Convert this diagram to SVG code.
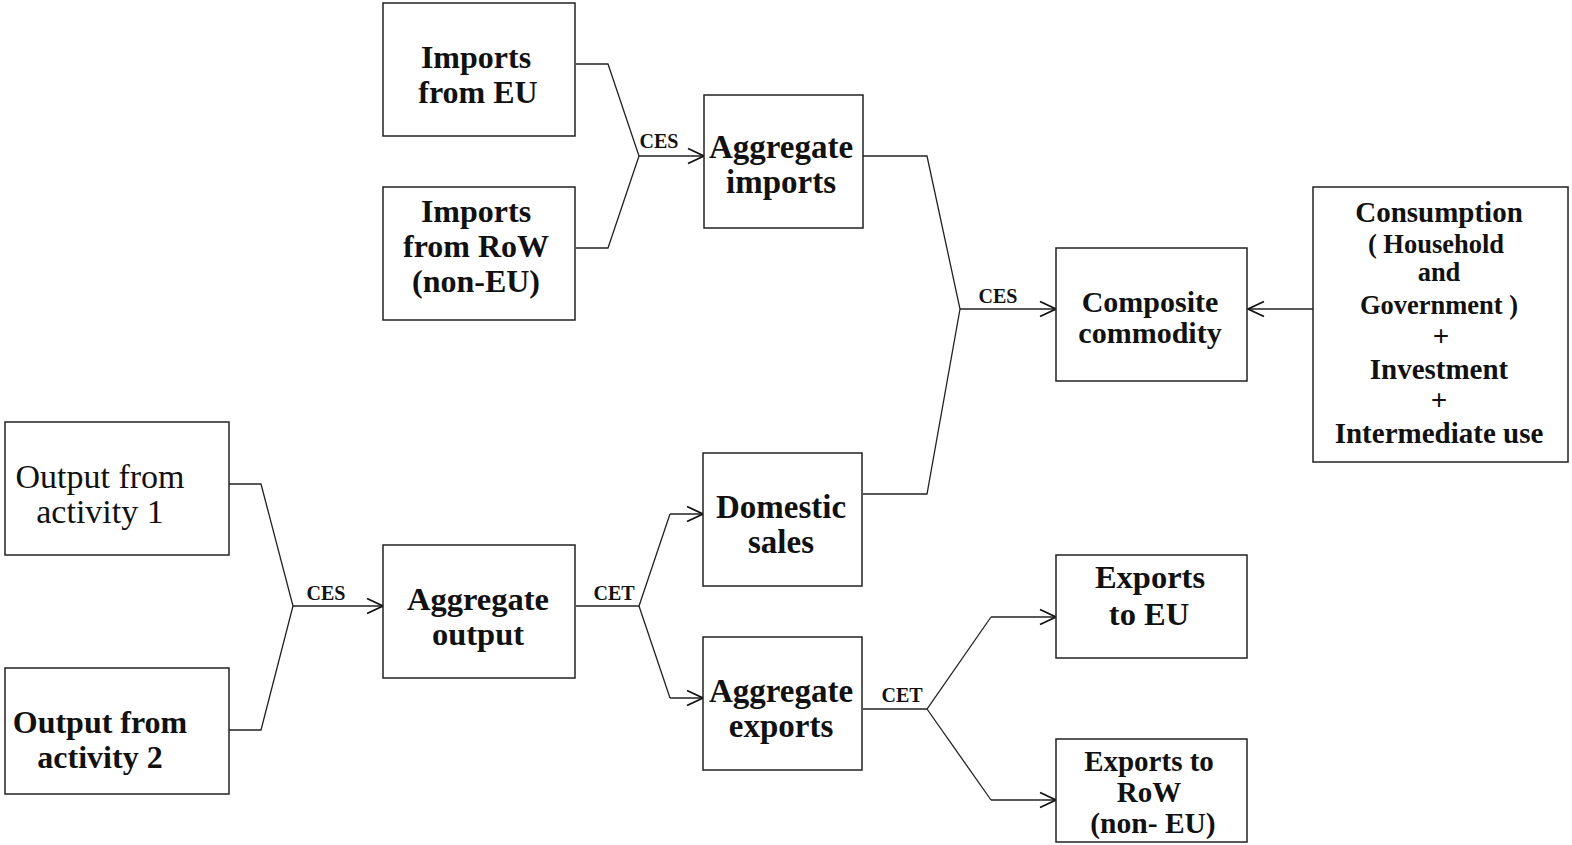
<svg xmlns="http://www.w3.org/2000/svg" width="1572" height="845" viewBox="0 0 1572 845">
<style>
.box{fill:#fff;stroke:#222;stroke-width:1.5}
.ln{fill:none;stroke:#222;stroke-width:1.3}
text{font-family:"Liberation Serif","Times New Roman",serif;fill:#111;text-anchor:middle}
.b{font-weight:bold}
.lab{font-weight:bold;font-size:20px}
</style>
<defs>
<marker id="arr" viewBox="0 0 18 18" refX="17" refY="9" markerWidth="18" markerHeight="18" markerUnits="userSpaceOnUse" orient="auto">
<path d="M1,1.5 L17,9 L1,16.5" fill="none" stroke="#111" stroke-width="1.8"/>
</marker>
</defs>
<rect width="1572" height="845" fill="#fff"/>
<g id="connectors">
<polyline class="ln" points="576,64 608,64 639,156 608,248 576,248"/>
<line class="ln" x1="639" y1="156" x2="704" y2="156" marker-end="url(#arr)"/>
<polyline class="ln" points="863,156 927,156 960,309 927,494 863,494"/>
<line class="ln" x1="960" y1="309" x2="1056" y2="309" marker-end="url(#arr)"/>
<line class="ln" x1="1313" y1="309" x2="1248" y2="309" marker-end="url(#arr)"/>
<polyline class="ln" points="229,484 261,484 293,606 261,730 229,730"/>
<line class="ln" x1="293" y1="606" x2="383" y2="606" marker-end="url(#arr)"/>
<polyline class="ln" points="576,606 639,606 670,514"/>
<line class="ln" x1="670" y1="514" x2="703" y2="514" marker-end="url(#arr)"/>
<polyline class="ln" points="639,606 670,698"/>
<line class="ln" x1="670" y1="698" x2="703" y2="698" marker-end="url(#arr)"/>
<polyline class="ln" points="863,709 927,709 991,617"/>
<line class="ln" x1="991" y1="617" x2="1056" y2="617" marker-end="url(#arr)"/>
<polyline class="ln" points="927,709 991,800"/>
<line class="ln" x1="991" y1="800" x2="1056" y2="800" marker-end="url(#arr)"/>
<text class="lab" x="659" y="148">CES</text>
<text class="lab" x="998" y="303">CES</text>
<text class="lab" x="326" y="600">CES</text>
<text class="lab" x="614" y="600">CET</text>
<text class="lab" x="902" y="702">CET</text>
</g>
<g id="imports-eu">
<rect class="box" x="383" y="3" width="192" height="133"/>
<text class="b" font-size="32" x="476" y="68">Imports</text>
<text class="b" font-size="32" x="478" y="103">from EU</text>
</g>
<g id="imports-row">
<rect class="box" x="383" y="187" width="192" height="133"/>
<text class="b" font-size="32" x="476" y="222">Imports</text>
<text class="b" font-size="32" x="476" y="257">from RoW</text>
<text class="b" font-size="32" x="476" y="292">(non-EU)</text>
</g>
<g id="aggregate-imports">
<rect class="box" x="704" y="95" width="159" height="133"/>
<text class="b" font-size="33" x="781" y="158">Aggregate</text>
<text class="b" font-size="33" x="781" y="193">imports</text>
</g>
<g id="composite">
<rect class="box" x="1056" y="248" width="191" height="133"/>
<text class="b" font-size="30" x="1150" y="312">Composite</text>
<text class="b" font-size="30" x="1150" y="343">commodity</text>
</g>
<g id="consumption">
<rect class="box" x="1313" y="187" width="255" height="275"/>
<text class="b" font-size="29" x="1439" y="222">Consumption</text>
<text class="b" font-size="26.5" x="1436" y="253">( Household</text>
<text class="b" font-size="26.5" x="1439" y="281">and</text>
<text class="b" font-size="26.5" x="1439" y="314">Government )</text>
<text class="b" font-size="29" x="1441" y="346">+</text>
<text class="b" font-size="29" x="1439" y="379">Investment</text>
<text class="b" font-size="29" x="1439" y="410">+</text>
<text class="b" font-size="29" x="1439" y="443">Intermediate use</text>
</g>
<g id="output-1">
<rect class="box" x="5" y="422" width="224" height="133"/>
<text font-size="34" x="100" y="488">Output from</text>
<text font-size="34" x="100" y="523">activity 1</text>
</g>
<g id="output-2">
<rect class="box" x="5" y="668" width="224" height="126"/>
<text class="b" font-size="32" x="100" y="733">Output from</text>
<text class="b" font-size="32" x="100" y="768">activity 2</text>
</g>
<g id="aggregate-output">
<rect class="box" x="383" y="545" width="192" height="133"/>
<text class="b" font-size="32.5" x="478" y="610">Aggregate</text>
<text class="b" font-size="32.5" x="478" y="645">output</text>
</g>
<g id="domestic-sales">
<rect class="box" x="703" y="453" width="159" height="133"/>
<text class="b" font-size="33" x="781" y="518">Domestic</text>
<text class="b" font-size="33" x="781" y="553">sales</text>
</g>
<g id="aggregate-exports">
<rect class="box" x="703" y="637" width="159" height="133"/>
<text class="b" font-size="33" x="781" y="702">Aggregate</text>
<text class="b" font-size="33" x="781" y="737">exports</text>
</g>
<g id="exports-eu">
<rect class="box" x="1056" y="555" width="191" height="103"/>
<text class="b" font-size="32.5" x="1150" y="588">Exports</text>
<text class="b" font-size="32.5" x="1149" y="625">to EU</text>
</g>
<g id="exports-row">
<rect class="box" x="1056" y="739" width="191" height="103"/>
<text class="b" font-size="29" x="1149" y="771">Exports to</text>
<text class="b" font-size="29" x="1149" y="802">RoW</text>
<text class="b" font-size="29.5" x="1153" y="833">(non- EU)</text>
</g>
</svg>
